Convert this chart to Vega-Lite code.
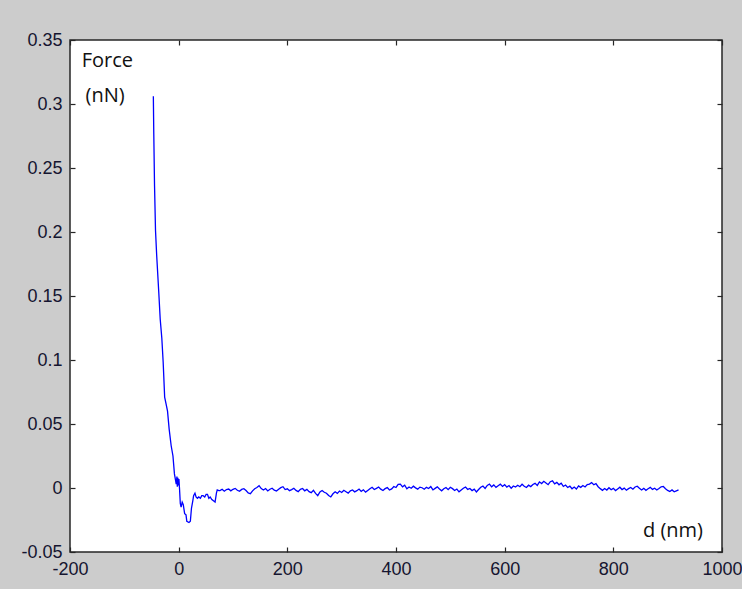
{
  "$schema": "https://vega.github.io/schema/vega-lite/v6.json",
  "width": 652,
  "height": 512,
  "autosize": "none",
  "padding": {"left": 70, "top": 40, "right": 20, "bottom": 37},
  "background": "#cccccc",
  "config": {
    "view": {"fill": "white", "stroke": "#262626", "strokeWidth": 1.5},
    "axis": {"grid": false, "domain": false, "ticks": true, "tickColor": "#262626", "tickWidth": 1.2, "tickSize": -5, "labelFont": "Liberation Sans", "labelFontSize": 18, "labelColor": "#151530", "title": null}
  },
  "datasets": {
    "curve": [
      {"d": -46.6, "F": 0.306}, {"d": -45.8, "F": 0.277}, {"d": -44.4, "F": 0.236}, {"d": -42.6, "F": 0.201},
      {"d": -40.5, "F": 0.182}, {"d": -36.5, "F": 0.152}, {"d": -34.0, "F": 0.132}, {"d": -31.0, "F": 0.117},
      {"d": -28.5, "F": 0.098}, {"d": -25.8, "F": 0.071}, {"d": -23.3, "F": 0.066}, {"d": -20.5, "F": 0.060},
      {"d": -17.5, "F": 0.046}, {"d": -13.8, "F": 0.033}, {"d": -10.5, "F": 0.025}, {"d": -7.8, "F": 0.011},
      {"d": -4.5, "F": 0.003}, {"d": -3.2, "F": 0.009}, {"d": -2.5, "F": 0.001}, {"d": -1.5, "F": 0.008},
      {"d": -0.5, "F": 0.002}, {"d": 0.5, "F": 0.007}, {"d": 1.5, "F": 0.000}, {"d": 3.0, "F": -0.012},
      {"d": 4.5, "F": -0.015}, {"d": 6.5, "F": -0.011}, {"d": 8.5, "F": -0.013}, {"d": 11.0, "F": -0.020},
      {"d": 13.5, "F": -0.021}, {"d": 15.0, "F": -0.026}, {"d": 19.0, "F": -0.027}, {"d": 21.5, "F": -0.026},
      {"d": 23.5, "F": -0.016}, {"d": 26.0, "F": -0.010}, {"d": 27.5, "F": -0.006}, {"d": 30.0, "F": -0.004},
      {"d": 32.0, "F": -0.007}, {"d": 34.5, "F": -0.008}, {"d": 37.0, "F": -0.007}, {"d": 40.0, "F": -0.008},
      {"d": 42.5, "F": -0.006}, {"d": 45.0, "F": -0.006}, {"d": 48.0, "F": -0.007}, {"d": 50.5, "F": -0.005},
      {"d": 53.0, "F": -0.005}, {"d": 55.5, "F": -0.008}, {"d": 58.0, "F": -0.007}, {"d": 61.0, "F": -0.009},
      {"d": 64.0, "F": -0.010}, {"d": 67.0, "F": -0.011}, {"d": 69.5, "F": -0.004}, {"d": 71.0, "F": -0.0015},
      {"d": 74, "F": -0.0020}, {"d": 76, "F": -0.0020}, {"d": 80, "F": -0.0010}, {"d": 84, "F": -0.0025},
      {"d": 88, "F": -0.0012}, {"d": 92, "F": -0.0008}, {"d": 96, "F": -0.0022}, {"d": 100, "F": -0.0010},
      {"d": 104, "F": -0.0003}, {"d": 108, "F": -0.0018}, {"d": 112, "F": -0.0026}, {"d": 116, "F": -0.0011},
      {"d": 120, "F": -0.0005}, {"d": 124, "F": -0.0020}, {"d": 128, "F": -0.0038}, {"d": 132, "F": -0.0045},
      {"d": 136, "F": -0.0022}, {"d": 140, "F": -0.0006}, {"d": 144, "F": 0.0004}, {"d": 148, "F": 0.0018},
      {"d": 152, "F": -0.0005}, {"d": 156, "F": -0.0016}, {"d": 160, "F": -0.0004}, {"d": 164, "F": -0.0023},
      {"d": 168, "F": -0.0010}, {"d": 172, "F": -0.0002}, {"d": 176, "F": -0.0017}, {"d": 180, "F": -0.0024},
      {"d": 184, "F": -0.0009}, {"d": 188, "F": 0.0003}, {"d": 192, "F": 0.0010}, {"d": 196, "F": -0.0012},
      {"d": 200, "F": -0.0006}, {"d": 204, "F": -0.0021}, {"d": 208, "F": -0.0013}, {"d": 212, "F": -0.0002},
      {"d": 216, "F": -0.0019}, {"d": 220, "F": -0.0028}, {"d": 224, "F": -0.0010}, {"d": 228, "F": -0.0004},
      {"d": 232, "F": -0.0022}, {"d": 236, "F": -0.0011}, {"d": 240, "F": -0.0029}, {"d": 244, "F": -0.0036},
      {"d": 248, "F": -0.0018}, {"d": 252, "F": -0.0042}, {"d": 256, "F": -0.0060}, {"d": 260, "F": -0.0031},
      {"d": 264, "F": -0.0020}, {"d": 268, "F": -0.0033}, {"d": 272, "F": -0.0041}, {"d": 276, "F": -0.0058},
      {"d": 280, "F": -0.0070}, {"d": 284, "F": -0.0045}, {"d": 288, "F": -0.0030}, {"d": 292, "F": -0.0042},
      {"d": 296, "F": -0.0024}, {"d": 300, "F": -0.0035}, {"d": 304, "F": -0.0018}, {"d": 308, "F": -0.0029},
      {"d": 312, "F": -0.0040}, {"d": 316, "F": -0.0022}, {"d": 320, "F": -0.0015}, {"d": 324, "F": -0.0030},
      {"d": 328, "F": -0.0021}, {"d": 332, "F": -0.0008}, {"d": 336, "F": -0.0026}, {"d": 340, "F": -0.0014},
      {"d": 344, "F": -0.0032}, {"d": 348, "F": -0.0019}, {"d": 352, "F": -0.0006}, {"d": 356, "F": 0.0006},
      {"d": 360, "F": -0.0012}, {"d": 364, "F": -0.0003}, {"d": 368, "F": 0.0008}, {"d": 372, "F": -0.0009},
      {"d": 376, "F": -0.0020}, {"d": 380, "F": -0.0005}, {"d": 384, "F": 0.0003}, {"d": 388, "F": -0.0016},
      {"d": 392, "F": -0.0007}, {"d": 396, "F": 0.0012}, {"d": 400, "F": 0.0004}, {"d": 404, "F": 0.0028},
      {"d": 408, "F": 0.0030}, {"d": 412, "F": 0.0009}, {"d": 416, "F": 0.0022}, {"d": 420, "F": -0.0006},
      {"d": 424, "F": 0.0008}, {"d": 428, "F": -0.0002}, {"d": 432, "F": 0.0014}, {"d": 436, "F": 0.0001},
      {"d": 440, "F": -0.0009}, {"d": 444, "F": 0.0007}, {"d": 448, "F": 0.0002}, {"d": 452, "F": -0.0010},
      {"d": 456, "F": 0.0005}, {"d": 460, "F": -0.0004}, {"d": 464, "F": 0.0011}, {"d": 468, "F": -0.0015},
      {"d": 472, "F": -0.0003}, {"d": 476, "F": 0.0009}, {"d": 480, "F": -0.0008}, {"d": 484, "F": -0.0022},
      {"d": 488, "F": -0.0006}, {"d": 492, "F": 0.0004}, {"d": 496, "F": -0.0013}, {"d": 500, "F": 0.0006},
      {"d": 504, "F": -0.0005}, {"d": 508, "F": -0.0019}, {"d": 512, "F": -0.0008}, {"d": 516, "F": -0.0030},
      {"d": 520, "F": -0.0016}, {"d": 524, "F": -0.0002}, {"d": 528, "F": 0.0008}, {"d": 532, "F": -0.0011},
      {"d": 536, "F": -0.0004}, {"d": 540, "F": -0.0020}, {"d": 544, "F": -0.0009}, {"d": 548, "F": -0.0031},
      {"d": 552, "F": -0.0012}, {"d": 556, "F": 0.0006}, {"d": 560, "F": 0.0015}, {"d": 564, "F": -0.0003},
      {"d": 568, "F": 0.0020}, {"d": 572, "F": 0.0031}, {"d": 576, "F": 0.0009}, {"d": 580, "F": 0.0024},
      {"d": 584, "F": 0.0005}, {"d": 588, "F": 0.0018}, {"d": 592, "F": 0.0030}, {"d": 596, "F": 0.0012},
      {"d": 600, "F": 0.0026}, {"d": 604, "F": 0.0007}, {"d": 608, "F": 0.0019}, {"d": 612, "F": -0.0002},
      {"d": 616, "F": 0.0016}, {"d": 620, "F": 0.0008}, {"d": 624, "F": 0.0021}, {"d": 628, "F": 0.0010},
      {"d": 632, "F": 0.0029}, {"d": 636, "F": 0.0013}, {"d": 640, "F": 0.0004}, {"d": 644, "F": 0.0022},
      {"d": 648, "F": 0.0011}, {"d": 652, "F": 0.0027}, {"d": 656, "F": 0.0036}, {"d": 660, "F": 0.0020},
      {"d": 664, "F": 0.0048}, {"d": 668, "F": 0.0035}, {"d": 672, "F": 0.0052}, {"d": 676, "F": 0.0039},
      {"d": 680, "F": 0.0026}, {"d": 684, "F": 0.0049}, {"d": 688, "F": 0.0056}, {"d": 692, "F": 0.0033},
      {"d": 696, "F": 0.0044}, {"d": 700, "F": 0.0025}, {"d": 704, "F": 0.0038}, {"d": 708, "F": 0.0012},
      {"d": 712, "F": 0.0023}, {"d": 716, "F": 0.0004}, {"d": 720, "F": 0.0015}, {"d": 724, "F": -0.0006},
      {"d": 728, "F": 0.0007}, {"d": 732, "F": -0.0008}, {"d": 736, "F": 0.0016}, {"d": 740, "F": 0.0005},
      {"d": 744, "F": 0.0019}, {"d": 748, "F": 0.0008}, {"d": 752, "F": 0.0026}, {"d": 756, "F": 0.0031},
      {"d": 760, "F": 0.0042}, {"d": 764, "F": 0.0025}, {"d": 768, "F": 0.0034}, {"d": 772, "F": 0.0010},
      {"d": 776, "F": -0.0005}, {"d": 780, "F": -0.0018}, {"d": 784, "F": -0.0004}, {"d": 788, "F": -0.0016},
      {"d": 792, "F": 0.0002}, {"d": 796, "F": -0.0014}, {"d": 800, "F": -0.0003}, {"d": 804, "F": -0.0020},
      {"d": 808, "F": -0.0007}, {"d": 812, "F": 0.0006}, {"d": 816, "F": -0.0012}, {"d": 820, "F": -0.0001},
      {"d": 824, "F": -0.0017}, {"d": 828, "F": -0.0005}, {"d": 832, "F": 0.0004}, {"d": 836, "F": -0.0009},
      {"d": 840, "F": 0.0008}, {"d": 844, "F": 0.0014}, {"d": 848, "F": -0.0002}, {"d": 852, "F": -0.0015},
      {"d": 856, "F": -0.0003}, {"d": 860, "F": -0.0018}, {"d": 864, "F": -0.0006}, {"d": 868, "F": 0.0005},
      {"d": 872, "F": -0.0011}, {"d": 876, "F": -0.0002}, {"d": 880, "F": -0.0016}, {"d": 884, "F": -0.0004},
      {"d": 888, "F": 0.0009}, {"d": 892, "F": 0.0012}, {"d": 896, "F": -0.0006}, {"d": 900, "F": -0.0019},
      {"d": 904, "F": -0.0028}, {"d": 908, "F": -0.0015}, {"d": 912, "F": -0.0030}, {"d": 916, "F": -0.0022},
      {"d": 920, "F": -0.0014}
    ],
    "notes": [
      {"d": -178.5, "F": 0.329, "text": "Force"},
      {"d": -171.5, "F": 0.3018, "text": "(nN)"},
      {"d": 854.6, "F": -0.038, "text": "d (nm)"}
    ]
  },
  "layer": [
    {
      "data": {"name": "curve"},
      "mark": {"type": "line", "color": "#0000ff", "strokeWidth": 1.3},
      "encoding": {
        "x": {"field": "d", "type": "quantitative", "scale": {"domain": [-200, 1000], "nice": false, "zero": false},
              "axis": {"orient": "bottom", "values": [-200, 0, 200, 400, 600, 800, 1000], "labelExpr": "datum.value + ''", "labelPadding": 13, "labelFlush": false, "labelOverlap": false}},
        "y": {"field": "F", "type": "quantitative", "scale": {"domain": [-0.05, 0.35], "nice": false, "zero": false},
              "axis": {"orient": "left", "values": [-0.05, 0, 0.05, 0.1, 0.15, 0.2, 0.25, 0.3, 0.35], "labelExpr": "datum.value + ''", "labelPadding": 13, "labelFlush": false, "labelOverlap": false}}
      }
    },
    {
      "data": {"name": "curve"},
      "mark": {"type": "line", "opacity": 0},
      "encoding": {
        "x": {"field": "d", "type": "quantitative", "axis": {"orient": "top", "values": [-200, 0, 200, 400, 600, 800, 1000], "labels": false}},
        "y": {"field": "F", "type": "quantitative", "axis": {"orient": "right", "values": [-0.05, 0, 0.05, 0.1, 0.15, 0.2, 0.25, 0.3, 0.35], "labels": false}}
      }
    },
    {
      "data": {"name": "notes"},
      "mark": {"type": "text", "font": "Open Sans", "fontSize": 20, "align": "left", "baseline": "alphabetic", "color": "#111111"},
      "encoding": {
        "x": {"field": "d", "type": "quantitative", "axis": null},
        "y": {"field": "F", "type": "quantitative", "axis": null},
        "text": {"field": "text"}
      }
    }
  ],
  "resolve": {"axis": {"x": "independent", "y": "independent"}}
}
